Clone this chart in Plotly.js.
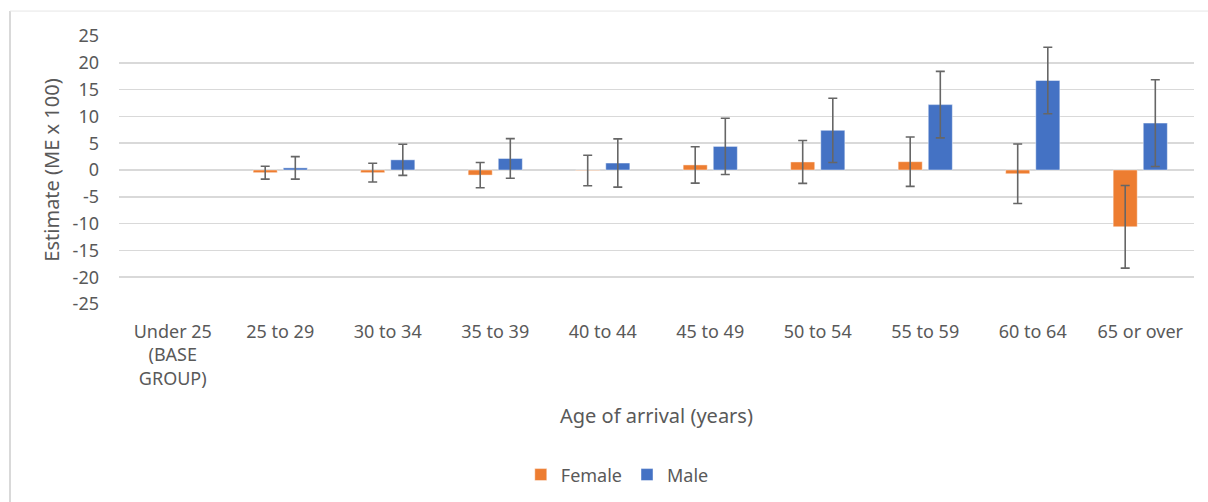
<!DOCTYPE html>
<html>
<head>
<meta charset="utf-8">
<script src="https://cdn.plot.ly/plotly-3.0.1.min.js"></script>
<style>html,body{margin:0;padding:0;background:#fff;}#chart{width:1208px;height:502px;}</style>
</head>
<body>
<div id="chart"></div>
<script>
const categories = ['Under 25<br>(BASE<br>GROUP)', '25 to 29', '30 to 34', '35 to 39', '40 to 44', '45 to 49', '50 to 54', '55 to 59', '60 to 64', '65 or over'];
const femaleValues = [null, -0.5, -0.5, -0.95, -0.1, 0.95, 1.5, 1.55, -0.7, -10.6];
const femaleErrors = [null, 1.2, 1.75, 2.35, 2.85, 3.4, 4.0, 4.6, 5.55, 7.7];
const maleValues = [null, 0.4, 1.9, 2.15, 1.3, 4.4, 7.4, 12.2, 16.7, 8.75];
const maleErrors = [null, 2.1, 2.9, 3.7, 4.5, 5.25, 6.0, 6.2, 6.2, 8.1];
const yTicks = [-25, -20, -15, -10, -5, 0, 5, 10, 15, 20, 25];

const FONT = '"Noto Sans", "Open Sans", sans-serif';
const TXT = '#595959';

const errStyle = (arr) => ({type: 'data', array: arr, visible: true, color: '#666666', thickness: 1.6, width: 4.5});

const traces = [
  {
    type: 'bar', name: 'Female', x: categories, y: femaleValues,
    marker: {color: '#ED7D31', line: {color: 'rgba(255,255,255,0.45)', width: 1}},
    error_y: errStyle(femaleErrors)
  },
  {
    type: 'bar', name: 'Male', x: categories, y: maleValues,
    marker: {color: '#4472C4', line: {color: 'rgba(255,255,255,0.45)', width: 1}},
    error_y: errStyle(maleErrors)
  }
];

const layout = {
  width: 1208, height: 502,
  margin: {l: 119, r: 14, t: 36, b: 198},
  paper_bgcolor: '#ffffff', plot_bgcolor: '#ffffff',
  font: {family: FONT, color: TXT, size: 18},
  barmode: 'group', bargap: 0.44, bargroupgap: 0.2,
  showlegend: true,
  legend: {orientation: 'h', xref: 'container', yref: 'container', x: 0.511, xanchor: 'center', y: 0.054, yanchor: 'middle',
           font: {family: FONT, size: 18, color: TXT}, itemwidth: 30, traceorder: 'normal'},
  xaxis: {
    type: 'category', showgrid: false, zeroline: false, showline: false, ticks: '',
    tickfont: {family: FONT, size: 18, color: TXT}, ticklabelstandoff: 15,
    title: {text: 'Age of arrival (years)', font: {family: FONT, size: 20, color: TXT}, standoff: 20},
    automargin: false
  },
  yaxis: {
    range: [-25, 25], tickvals: yTicks, ticktext: yTicks.map(String),
    showgrid: true, gridcolor: '#d9d9d9', gridwidth: 1.5,
    zeroline: true, zerolinecolor: '#d9d9d9', zerolinewidth: 1.5,
    showline: false, ticks: '', ticklabelstandoff: 19,
    tickfont: {family: FONT, size: 18, color: TXT},
    title: {text: 'Estimate (ME x 100)', font: {family: FONT, size: 20, color: TXT}, standoff: 7},
    automargin: false
  },
  shapes: [
    {type: 'line', xref: 'paper', yref: 'paper', x0: -0.1014, x1: -0.1014, y0: 1.093, y1: -0.8, line: {color: '#d9d9d9', width: 2}},
    {type: 'line', xref: 'paper', yref: 'paper', x0: -0.1014, x1: 1.05, y0: 1.093, y1: 1.093, line: {color: '#e6e6e6', width: 1}}
  ]
};

Plotly.newPlot('chart', traces, layout, {displayModeBar: false, staticPlot: true});
</script>
</body>
</html>
